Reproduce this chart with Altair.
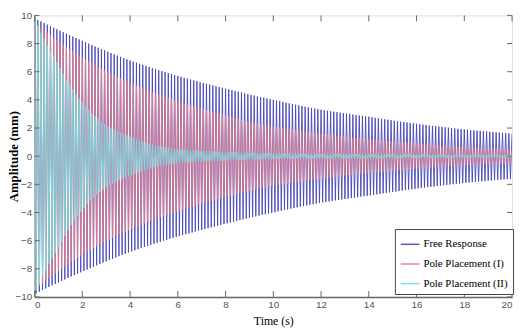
import altair as alt
import numpy as np
import pandas as pd

series_names = ["Free Response", "Pole Placement (I)", "Pole Placement (II)"]
series_colors = ["#4646b8", "#e07a8a", "#72e4e0"]

# peak envelopes (mm)
free_time = [0, 2, 4, 6, 8, 10, 12, 14, 16, 18, 20]
free_env = [9.8, 8.2, 6.8, 5.7, 4.8, 4.0, 3.3, 2.8, 2.3, 1.9, 1.6]
pp1_time = [0, 2, 4, 6, 8, 10, 12, 14, 16, 18, 20]
pp1_env = [9.5, 7.0, 5.2, 3.9, 2.9, 2.1, 1.6, 1.2, 0.9, 0.65, 0.5]
pp2_time = [0, 0.5, 1, 1.5, 2, 3, 4, 5, 6, 8, 10, 14, 20]
pp2_env = [9.8, 8.0, 6.5, 5.0, 3.8, 2.2, 1.4, 0.8, 0.5, 0.3, 0.2, 0.15, 0.1]
osc_freq = [7.5, 7.5, 7.5]  # Hz, from line spacing

x_ticks = [0, 2, 4, 6, 8, 10, 12, 14, 16, 18, 20]
y_ticks = [-10, -8, -6, -4, -2, 0, 2, 4, 6, 8, 10]

W, H = 485, 286


def peaks(name, times, env, f):
    n = int(20 * 2 * f)
    tk = np.arange(n + 1) / (2 * f)
    a = np.exp(np.interp(tk, times, np.log(env)))
    sign = np.where(np.arange(n + 1) % 2 == 0, 1.0, -1.0)
    return pd.DataFrame({"t": tk, "y": sign * a, "series": name})


dfs = [
    peaks(series_names[0], free_time, free_env, osc_freq[0]),
    peaks(series_names[1], pp1_time, pp1_env, osc_freq[1]),
    peaks(series_names[2], pp2_time, pp2_env, osc_freq[2]),
]

lab_font = "Liberation Sans Narrow, Liberation Sans"
x_axis = alt.Axis(values=x_ticks, ticks=False, grid=False, title="Time (s)",
                  titleFont="Liberation Serif", titleFontSize=12, titleFontWeight="normal",
                  titleColor="#000", titlePadding=6,
                  labelFont=lab_font, labelFontSize=10, labelColor="#555", labelPadding=3,
                  domainColor="#666", domainWidth=1.5)
y_axis = alt.Axis(values=y_ticks, ticks=False, grid=False, title="Amplitude (mm)",
                  titleFont="Liberation Serif", titleFontSize=13, titleFontWeight="bold",
                  titleColor="#000", titleX=-14, titleY=H / 2,
                  labelFont=lab_font, labelFontSize=10, labelColor="#555", labelPadding=3,
                  domainColor="#666")
xs = alt.Scale(domain=[0, 20], nice=False, zero=False)
ys = alt.Scale(domain=[-10, 10], nice=False)

color_enc = alt.Color(
    "series:N",
    scale=alt.Scale(domain=series_names, range=series_colors),
    legend=alt.Legend(orient="none", legendX=366, legendY=217, title=None,
                      symbolType="stroke", symbolSize=361, symbolStrokeWidth=1.5,
                      labelFont="Liberation Serif", labelFontSize=11, labelColor="#000",
                      labelOffset=3, strokeColor="#444", fillColor="white",
                      padding=5, rowPadding=4),
)

layers = []
for df, op in zip(dfs, [0.9, 0.85, 0.85]):
    layers.append(
        alt.Chart(df).mark_line(strokeWidth=1, opacity=op, clip=True).encode(
            x=alt.X("t:Q", scale=xs, axis=x_axis),
            y=alt.Y("y:Q", scale=ys, axis=y_axis),
            color=color_enc,
        )
    )

xt = pd.DataFrame({"t": x_ticks})
yt = pd.DataFrame({"y": y_ticks})
tick_col = "#666"
layers += [
    alt.Chart(xt).mark_rule(color=tick_col).encode(
        x=alt.X("t:Q", scale=xs, axis=x_axis), y=alt.value(H), y2=alt.value(H - 6)),
    alt.Chart(xt).mark_rule(color=tick_col).encode(
        x=alt.X("t:Q", scale=xs, axis=x_axis), y=alt.value(0), y2=alt.value(6)),
    alt.Chart(yt).mark_rule(color=tick_col).encode(
        y=alt.Y("y:Q", scale=ys, axis=y_axis), x=alt.value(0), x2=alt.value(5)),
    alt.Chart(yt).mark_rule(color=tick_col).encode(
        y=alt.Y("y:Q", scale=ys, axis=y_axis), x=alt.value(W), x2=alt.value(W - 5)),
]

chart = alt.layer(*layers).properties(
    width=W, height=H,
    autosize=alt.AutoSizeParams(type="none"),
    padding={"left": 27, "top": 5, "right": 3, "bottom": 30},
).configure_view(stroke="#666", strokeWidth=1).configure(background="white")

chart.save("out.html", embed_options={"renderer": "svg", "actions": False})
